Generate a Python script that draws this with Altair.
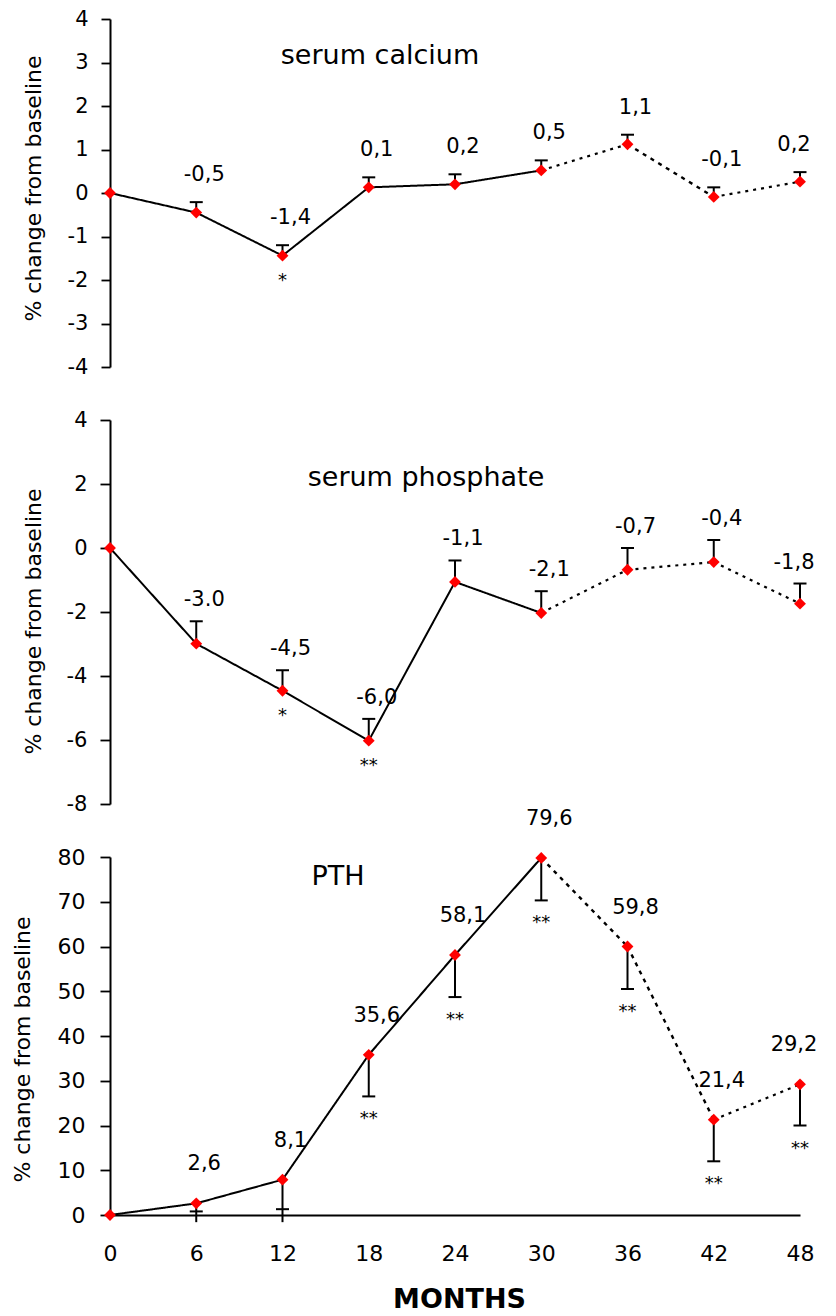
import altair as alt
import pandas as pd

# ---------------- data ----------------
months = [0, 6, 12, 18, 24, 30, 36, 42, 48]

calcium_mean = [0.0, -0.45, -1.44, 0.13, 0.20, 0.52, 1.12, -0.09, 0.26]
calcium_err_up = [None, 0.24, 0.24, 0.23, 0.23, 0.23, 0.22, 0.22, 0.22]
calcium_labels = ["", "-0,5", "-1,4", "0,1", "0,2", "0,5", "1,1", "-0,1", "0,2"]
calcium_sig = ["", "", "*", "", "", "", "", "", ""]

phosphate_mean = [0.0, -2.99, -4.46, -6.02, -1.06, -2.03, -0.68, -0.44, -1.74]
phosphate_err_up = [None, 0.70, 0.64, 0.68, 0.67, 0.68, 0.68, 0.69, 0.63]
phosphate_labels = ["", "-3.0", "-4,5", "-6,0", "-1,1", "-2,1", "-0,7", "-0,4", "-1,8"]
phosphate_sig = ["", "", "*", "**", "", "", "", "", ""]

pth_mean = [0.0, 2.6, 7.9, 35.8, 58.1, 79.8, 60.0, 21.3, 29.2]
pth_cap_low = [None, 0.8, 1.3, 26.5, 48.7, 70.3, 50.5, 12.0, 20.0]
pth_whisker_low = [None, -1.6, -1.6, 26.5, 48.7, 70.3, 50.5, 12.0, 20.0]
pth_labels = ["", "2,6", "8,1", "35,6", "58,1", "79,6", "59,8", "21,4", "29,2"]
pth_sig = ["", "", "", "**", "**", "**", "**", "**", "**"]

# line style of each segment between consecutive visits
calcium_seg_style = ["solid"] * 5 + ["dash", "thin", "dash"]
phosphate_seg_style = ["solid"] * 5 + ["dash", "dash", "dash"]
pth_seg_style = ["solid"] * 5 + ["thin", "thin", "dash"]

FONT = "DejaVu Sans"
W = 690


def seg_frame(values, styles):
    rows = []
    for i in range(len(months) - 1):
        for j in (i, i + 1):
            rows.append({"seg": i, "month": months[j], "value": values[j], "style": styles[i]})
    return pd.DataFrame(rows)


def y_axis(values, label_size, label_pad, tick_size, title_x, title_y):
    return alt.Axis(
        values=values, title="% change from baseline", labelExpr="'' + datum.value",
        labelFont=FONT, labelFontSize=label_size, labelColor="black", labelPadding=label_pad,
        tickSize=tick_size, tickColor="black", tickWidth=1.8, domainColor="black", domainWidth=2,
        grid=False, labelFlush=False, labelOverlap=False,
        titleFont=FONT, titleFontSize=22, titleFontWeight="normal", titleColor="black",
        titleX=title_x, titleY=title_y, titleAngle=270, titleAlign="center", titleBaseline="middle",
    )


def x_enc(axis):
    return alt.X("month:Q", scale=alt.Scale(domain=[0, 48], nice=False, zero=False), axis=axis)


def panel(mean, cap, whisk, labels, sig, styles, domain, axis, height, title, title_dx, title_dy,
          label_dy, label_on_cap, sig_on_cap, sig_dy, xaxis):
    df = pd.DataFrame({"month": months, "value": mean, "cap": cap, "whisk": whisk,
                       "label": labels, "sig": sig})
    sc = alt.Scale(domain=domain, nice=False, zero=False)

    def Y(field):
        return alt.Y(field, type="quantitative", scale=sc, axis=axis)

    base = alt.Chart(df)
    lines = alt.Chart(seg_frame(mean, styles)).mark_line(color="black").encode(
        x=x_enc(xaxis), y=Y("value"), detail="seg:N",
        strokeDash=alt.StrokeDash("style:N", scale=alt.Scale(domain=["solid", "dash", "thin"],
                                  range=[[1, 0], [3, 5], [4, 5]]), legend=None),
        strokeWidth=alt.StrokeWidth("style:N", scale=alt.Scale(domain=["solid", "dash", "thin"],
                                    range=[2.0, 2.4, 1.1]), legend=None),
    )
    rules = base.transform_filter("isValid(datum.cap)").mark_rule(color="black", strokeWidth=2).encode(
        x=x_enc(xaxis), y=Y("value"), y2="whisk:Q")
    caps = base.transform_filter("isValid(datum.cap)").mark_tick(
        orient="horizontal", color="black", thickness=2, size=13, opacity=1).encode(
        x=x_enc(xaxis), y=Y("cap"))
    pts = base.mark_point(shape="diamond", filled=True, color="red", size=140, opacity=1).encode(
        x=x_enc(xaxis), y=Y("value"))
    lab_y = "cap" if label_on_cap else "value"
    txt = base.transform_filter("datum.month < 48").mark_text(
        font=FONT, fontSize=21, dx=8, dy=label_dy, baseline="alphabetic", color="black").encode(
        x=x_enc(xaxis), y=Y(lab_y), text="label:N")
    txt_last = base.transform_filter("datum.month == 48").mark_text(
        font=FONT, fontSize=21, dx=-6, dy=label_dy, baseline="alphabetic", color="black").encode(
        x=x_enc(xaxis), y=Y(lab_y), text="label:N")
    sig_y = "cap" if sig_on_cap else "value"
    stars = base.transform_filter("datum.sig != ''").mark_text(
        font=FONT, fontSize=18, dx=0, dy=sig_dy, baseline="alphabetic", color="black").encode(
        x=x_enc(xaxis), y=Y(sig_y), text="sig:N")
    return alt.layer(lines, rules, caps, pts, txt, txt_last, stars).properties(
        width=W, height=height,
        title=alt.TitleParams(title, orient="top", anchor="start", frame="group", align="center",
                              baseline="middle", offset=0, dx=title_dx, dy=title_dy,
                              font=FONT, fontSize=27, fontWeight="normal", color="black"))


calcium_cap = [m + e if e is not None else None for m, e in zip(calcium_mean, calcium_err_up)]
calcium = panel(calcium_mean, calcium_cap, calcium_cap,
                calcium_labels, calcium_sig, calcium_seg_style, [-4, 4],
                y_axis(list(range(-4, 5)), 21, 13, 9, -77, 169), 348,
                "serum calcium", 270, 75, -21, True, False, 30, None)

phos_cap = [m + e if e is not None else None for m, e in zip(phosphate_mean, phosphate_err_up)]
phosphate = panel(phosphate_mean, phos_cap, phos_cap, phosphate_labels, phosphate_sig, phosphate_seg_style,
                  [-8, 4], y_axis(list(range(-8, 5, 2)), 21, 13, 10, -77, 201), 384,
                  "serum phosphate", 316, 96, -15, True, False, 30, None)

x_axis = alt.Axis(values=months, title="MONTHS", labelExpr="'' + datum.value", labelFont=FONT,
                  labelFontSize=22, labelColor="black", labelPadding=38, labelBaseline="middle",
                  ticks=False, tickSize=0, domainColor="black", domainWidth=2, grid=False,
                  labelFlush=False, titleFont=FONT, titleFontSize=27, titleFontWeight="bold",
                  titleColor="black", titleX=349, titleY=84, titleAlign="center", titleBaseline="middle")

pth = panel(pth_mean, pth_cap_low, pth_whisker_low, pth_labels, pth_sig, pth_seg_style, [0, 80],
            y_axis(list(range(0, 81, 10)), 22, 15, 10, -88, 192), 358,
            "PTH", 228, 96, -33, False, True, 28, x_axis)

chart = alt.vconcat(calcium, phosphate, pth, spacing=53, bounds="flush").properties(
    padding={"left": 3, "top": 0, "right": 0, "bottom": 0}
).configure_view(stroke=None)

chart.save("out.html", embed_options={"renderer": "svg", "actions": False})
